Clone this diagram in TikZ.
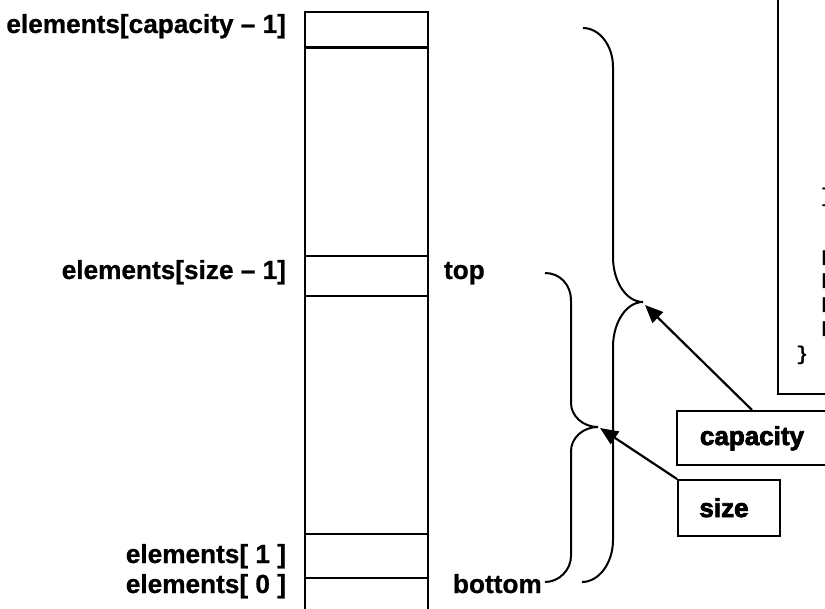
\documentclass[tikz,border=0pt]{standalone}
\usepackage{fontspec}
\setmainfont{Liberation Sans}[BoldFeatures={FakeBold=0.8}]
\newfontfamily\heavyfont{Liberation Sans}[BoldFeatures={FakeBold=3}]
\newfontfamily\codefont{Liberation Mono}
\usetikzlibrary{arrows.meta}
\begin{document}
\begin{tikzpicture}[x=1pt,y=-1pt,line width=2pt,
  lbl/.style={font=\fontsize{26.2}{30}\selectfont\bfseries, inner sep=0pt},
  boxtxt/.style={font=\heavyfont\fontsize{26}{30}\selectfont\bfseries, inner sep=0pt},
  codetxt/.style={font=\codefont\fontsize{20}{24}\selectfont\bfseries, inner sep=0pt},
  stemtxt/.style={font=\fontsize{20}{24}\selectfont\bfseries, inner sep=0pt},
  cell/.style={draw, line width=2.2pt, minimum width=123pt, inner sep=0pt, anchor=north west},
  frame/.style={draw, line width=2.2pt, inner sep=0pt},
  bracepath/.style={line width=2pt},
  ptr/.style={line width=2.2pt, -{Triangle[length=18pt,width=15pt]}}]
\useasboundingbox (0,0) rectangle (825,609);
\clip (0,0) rectangle (825,609);

% array cells
\node[cell, minimum height=35.5pt] (c0) at (304,11) {};
\node[cell, minimum height=208.5pt] (c1) at (304,46.5) {};
\node[cell, minimum height=40pt] (c2) at (304,255) {};
\node[cell, minimum height=238pt] (c3) at (304,295) {};
\node[cell, minimum height=44pt] (c4) at (304,533) {};
\node[cell, minimum height=60pt] (c5) at (304,577) {};

% labels
\node[lbl, anchor=base east] (lcap) at (287,33) {elements[capacity – 1]};
\node[lbl, anchor=base east] (lsize) at (287,279) {elements[size – 1]};
\node[lbl, anchor=base west] (ltop) at (443,279) {top};
\node[lbl, anchor=base east] (lone) at (287,563) {elements[ 1 ]};
\node[lbl, anchor=base east] (lzero) at (287,593) {elements[ 0 ]};
\node[lbl, anchor=base west] (lbot) at (452,593) {bottom};

% braces
\coordinate (sizetip) at (600,428);
\coordinate (captip) at (645,305);
\draw[bracepath] (545,273) .. controls (559,273) and (571,283.5) .. (571,301)
  -- (571,403) .. controls (571,416) and (583,427) .. (598,427)
  .. controls (583,427) and (571,438) .. (571,451)
  -- (571,556) .. controls (571,570) and (559,582) .. (545,582);
\draw[bracepath] (583,28) .. controls (599.5,28) and (613,45.5) .. (613,67)
  -- (613,257) .. controls (613,282) and (626.5,302) .. (643,302)
  .. controls (626.5,302) and (613,322) .. (613,347)
  -- (613,540) .. controls (613,563) and (599,582) .. (582,582);

% code box (clipped)
\node[frame, minimum width=200pt, minimum height=500pt, anchor=south west] (codebox) at (777,395) {};
\node[codetxt] (codeA) at (826.5,197) {\}};
\node[stemtxt, anchor=base west] (codeB) at (820.5,265) {l};
\node[stemtxt, anchor=base west] (codeC) at (820.5,288) {l};
\node[stemtxt, anchor=base west] (codeD) at (820.5,312) {l};
\node[stemtxt, anchor=base west] (codeE) at (820.5,336) {l};
\node[codetxt] (codeF) at (802,355) {\}};

% boxes
\node[frame, minimum width=200pt, minimum height=54pt, anchor=north west] (capbox) at (676,410) {};
\node[boxtxt, anchor=base] (captxt) at (752,445) {capacity};
\node[frame, minimum width=102pt, minimum height=56pt, anchor=north west] (sizebox) at (677,479) {};
\node[boxtxt, anchor=base] (sizetxt) at (724,517) {size};

% pointers
\draw[ptr] (captxt |- capbox.north) -- (captip);
\draw[ptr] (sizebox.north west) -- (sizetip);
\end{tikzpicture}
\end{document}
